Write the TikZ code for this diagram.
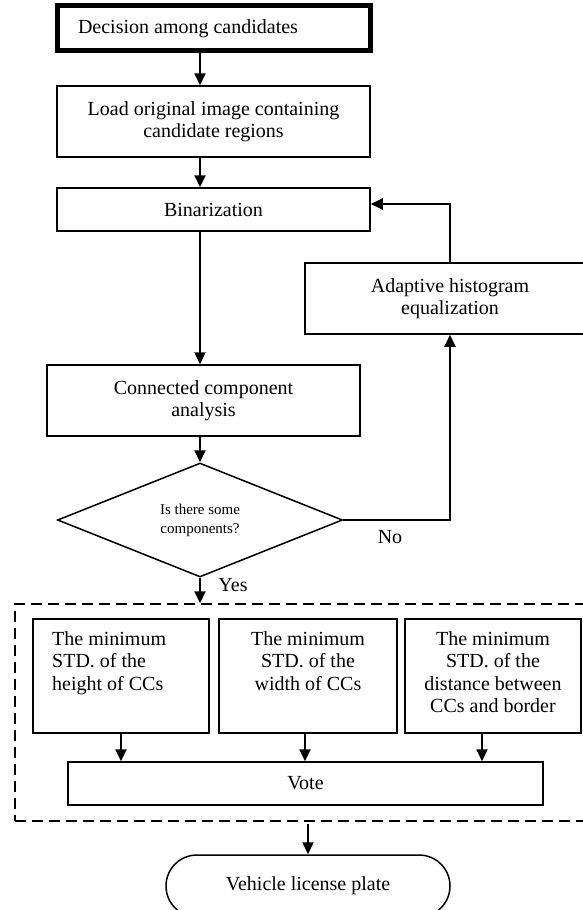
\documentclass[tikz,border=0pt]{standalone}
\usepackage{fontspec}
\setmainfont{Liberation Serif}
\usetikzlibrary{arrows.meta,shapes.geometric,calc}
\tikzset{
  base/.style={font=\fontsize{20}{22.5}\selectfont},
  boxnode/.style={draw=black, line width=1.5pt, rectangle, inner sep=0pt, align=center},
  arr/.style={line width=2pt, -{Triangle[length=12pt,width=11pt]}},
  plain/.style={line width=2pt},
  lbl/.style={inner sep=0pt, align=center},
}
\begin{document}
\begin{tikzpicture}[x=1pt,y=-1pt,base]
\useasboundingbox (0,0) rectangle (583,910);
\fill[white] (0,0) rectangle (583,910);
\clip (0,0) rectangle (583,910);

% top chain
\node[boxnode, line width=5pt, minimum width=313pt, minimum height=45pt] (dec) at (214,28.4) {};
\node[lbl] (dect) at (188,29) {Decision among candidates};
\node[boxnode, minimum width=313pt, minimum height=71pt] (load) at (213.5,121.5) {Load original image containing\\candidate regions};
\node[boxnode, minimum width=313pt, minimum height=43pt] (bin) at (213.5,209.5) {Binarization};
\node[boxnode, minimum width=290pt, minimum height=71pt] (adapt) at (450,298.5) {Adaptive histogram\\equalization};
\node[boxnode, minimum width=313pt, minimum height=71pt] (cc) at (203.5,400.5) {Connected component\\analysis};
\node[draw=black, line width=1.5pt, diamond, aspect=2.5, inner sep=0pt, minimum width=285pt, minimum height=114pt,
      align=center, font=\fontsize{15}{19}\selectfont] (dia) at (200,520) {Is there some\\components?};

\node[lbl] (no) at (390,537) {No};
\node[lbl] (yes) at (233,585) {Yes};

% dashed group
\node[draw=black, line width=1.5pt, dash pattern=on 11pt off 6pt, rectangle, inner sep=0pt,
      minimum width=585pt, minimum height=217pt] (grp) at (307.5,712.5) {};

\node[boxnode, minimum width=176pt, minimum height=114pt] (ba) at (121,676) {};
\node[lbl, anchor=north west, align=left] (bat) at (52,631) {The minimum\\STD. of the\\height of CCs};
\node[boxnode, minimum width=178pt, minimum height=114pt] (bb) at (308,676) {};
\node[lbl, anchor=north] (bbt) at (308,631) {The minimum\\STD. of the\\width of CCs};
\node[boxnode, minimum width=176pt, minimum height=114pt] (bc) at (493,676) {};
\node[lbl, anchor=north] (bct) at (493,631) {The minimum\\STD. of the\\distance between\\CCs and border};

\node[boxnode, minimum width=475pt, minimum height=43pt] (vote) at (305.5,783.5) {Vote};

\node[draw=black, line width=1.5pt, rectangle, rounded corners=31pt, inner sep=0pt,
      minimum width=284pt, minimum height=62pt] (plate) at (308,886) {Vehicle license plate};

% connectors
\draw[arr] (dec.south -| dia.north) -- (load.north -| dia.north);
\draw[arr] (load.south -| dia.north) -- (bin.north -| dia.north);
\draw[arr] (bin.south -| dia.north) -- (cc.north -| dia.north);
\draw[arr] (cc.south -| dia.north) -- (dia.north);
\draw[arr] (dia.east) -| (adapt.south);
\draw[arr] (adapt.north) |- ([yshift=5.5pt]bin.east);
\draw[arr] (dia.south) -- (dia.south |- grp.north);
\draw[arr] (ba.south) -- (ba.south |- vote.north);
\draw[arr] ([xshift=-3pt]bb.south) -- ([xshift=-3pt]bb.south |- vote.north);
\draw[arr] ([xshift=-11pt]bc.south) -- ([xshift=-11pt]bc.south |- vote.north);
\draw[arr] ([yshift=-2pt]plate.north |- grp.south) -- (plate.north);
\end{tikzpicture}
\end{document}
